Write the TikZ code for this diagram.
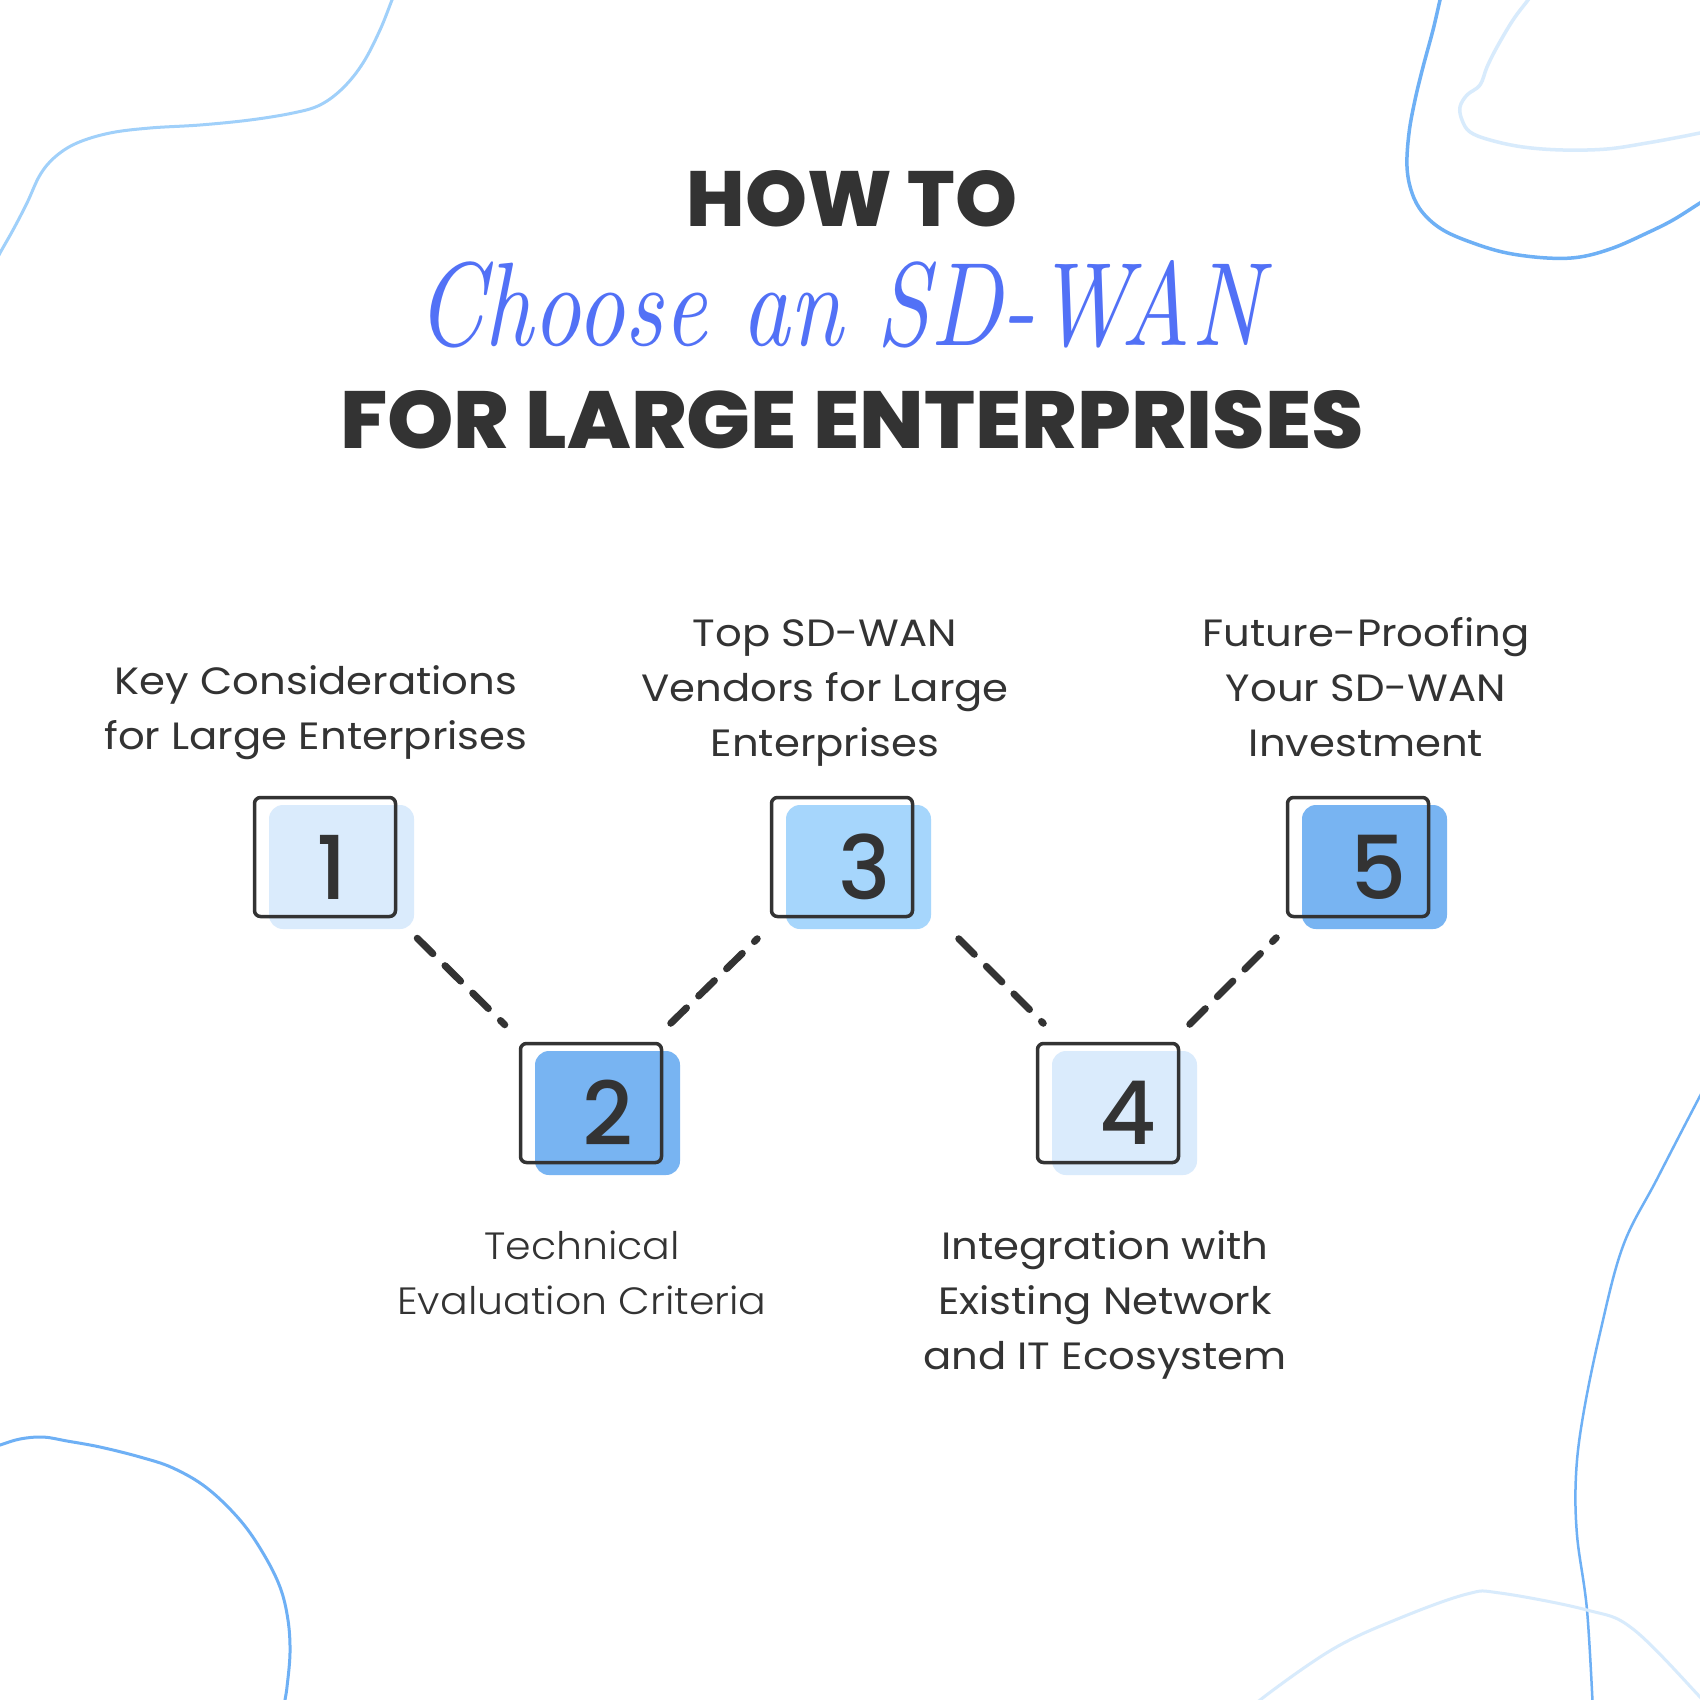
\documentclass[tikz,border=0pt]{standalone}
\usepackage{graphicx}
\usepackage{fontspec}
\newfontfamily\pop{Poppins}[FakeStretch=1.1]
\newfontfamily\poplight{Poppins Light}[FakeStretch=1.08]
\newfontfamily\popmed{Poppins Medium}
\newfontfamily\popxb{Poppins ExtraBold}
\usetikzlibrary{calc}
\definecolor{ink}{HTML}{333333}
\definecolor{scriptblue}{HTML}{5271F6}
\definecolor{boxlight}{HTML}{DAEBFC}
\definecolor{boxmid}{HTML}{A6D6FC}
\definecolor{boxdark}{HTML}{78B4F2}
\definecolor{curvedark}{HTML}{6EB0F5}
\definecolor{curvemid}{HTML}{A0D0FA}
\definecolor{curvelight}{HTML}{D8EBFC}
\begin{document}
\begin{tikzpicture}[x=1bp,y=-1bp,
  outline/.style={draw=ink, line width=3.5bp, rounded corners=6bp, minimum width=141bp, minimum height=119bp, inner sep=0pt},
  fillbox/.style={rounded corners=14bp, minimum width=145bp, minimum height=124bp, inner sep=0pt, text=ink, font=\popmed\fontsize{88bp}{88bp}\selectfont},
  link/.style={draw=ink, line width=7bp, line cap=round, dash pattern=on 22bp off 17bp},
  lab/.style={anchor=base, inner sep=0pt, text=ink, font=\pop\fontsize{38bp}{55bp}\selectfont},
  lablight/.style={lab, font=\poplight\fontsize{38bp}{55bp}\selectfont},
  head/.style={anchor=base, inner sep=0pt, text=ink},
  deco/.style={line width=3bp, line cap=round}
]
\useasboundingbox (0,0) rectangle (1700,1700);
\fill[white] (0,0) rectangle (1700,1700);

% decorative curves
\begin{scope}
\clip (0,0) rectangle (1700,1700);
\draw[deco, draw=curvemid] plot[smooth, tension=0.6] coordinates {(-6,265) (0,253) (13,230) (27,203) (40,175) (55,157) (77,143) (110,133) (150,128) (200,125) (250,120) (293,113) (320,105) (343,88) (363,63) (380,30) (392,0) (397,-12)};
\draw[deco, draw=curvedark, line width=3.5bp] plot[smooth, tension=0.6] coordinates {(1443,-12) (1440,0) (1433,30) (1423,67) (1415,100) (1409,133) (1407,167) (1412,193) (1423,213) (1443,230) (1473,243) (1507,253) (1547,258) (1580,257) (1613,248) (1647,233) (1673,220) (1700,203) (1712,196)};
\draw[deco, draw=curvelight, line width=3.5bp] plot[smooth, tension=0.6] coordinates {(1535,-10) (1528,0) (1513,20) (1497,47) (1487,67) (1480,85) (1467,95) (1460,107) (1462,120) (1470,132) (1490,140) (1523,147) (1563,150) (1607,149) (1647,143) (1680,137) (1700,133) (1712,131)};
\draw[deco, draw=curvedark] plot[smooth, tension=0.6] coordinates {(-12,1449) (0,1445) (20,1439) (43,1437) (67,1441) (100,1447) (140,1457) (173,1468) (207,1488) (240,1520) (263,1553) (280,1587) (288,1620) (290,1653) (287,1687) (285,1700) (284,1712)};
\draw[deco, draw=curvedark, line width=2.5bp] plot[smooth, tension=0.6] coordinates {(1712,1075) (1700,1096) (1657,1179) (1623,1246) (1600,1333) (1583,1416) (1576,1475) (1577,1535) (1587,1610) (1593,1712)};
\draw[deco, draw=curvelight, line width=3bp] plot[smooth, tension=0.6] coordinates {(1252,1712) (1260,1700) (1333,1649) (1400,1618) (1467,1594) (1500,1593) (1587,1610) (1633,1629) (1700,1697) (1710,1710)};
\end{scope}

% title
\node[head] (how) at (852,226) {\resizebox{330bp}{56bp}{\popxb HOW TO}};
\node[head, text=scriptblue] (choose) at (839,345) {\resizebox{845bp}{85bp}{\itshape Choose an SD-WAN}};
\node[head] (forlarge) at (852,448) {\resizebox{1023bp}{58bp}{\popxb FOR LARGE ENTERPRISES}};

% step boxes: coloured squares then outlines
\node[fillbox, fill=boxlight] (f1) at (341.5,867) {\kern-20bp 1};
\node[fillbox, fill=boxdark]  (f2) at (607.5,1113) {2};
\node[fillbox, fill=boxmid]   (f3) at (858.5,867) {\kern12bp 3};
\node[fillbox, fill=boxlight] (f4) at (1124.5,1113) {\kern6bp 4};
\node[fillbox, fill=boxdark]  (f5) at (1374.5,867) {\kern8bp 5};

\node[outline] (b1) at (325,857) {};
\node[outline] (b2) at (591,1103) {};
\node[outline] (b3) at (842,857) {};
\node[outline] (b4) at (1108,1103) {};
\node[outline] (b5) at (1358,857) {};

% dashed connectors
\draw[link] ($(b1.south east)+(20,20)$) -- ($(b2.north west)+(-14,-17)$);
\draw[link] ($(b2.north east)+(7.5,-18.5)$) -- ($(b3.south west)+(-12.5,20.5)$);
\draw[link] ($(b3.south east)+(44.5,20.5)$) -- ($(b4.north west)+(7.5,-18.5)$);
\draw[link] ($(b4.north east)+(9.5,-17.5)$) -- ($(b5.south west)+(-9.5,19.5)$);

% labels
\node[lab] (l1) at (316,694) {\begin{tabular}[t]{@{}c@{}}Key Considerations\\for Large Enterprises\end{tabular}};
\node[lab] (l3) at (825,646) {\begin{tabular}[t]{@{}c@{}}Top SD-WAN\\Vendors for Large\\Enterprises\end{tabular}};
\node[lab] (l5) at (1366,646) {\begin{tabular}[t]{@{}c@{}}Future-Proofing\\Your SD-WAN\\Investment\end{tabular}};
\node[lablight] (l2) at (582,1259) {\begin{tabular}[t]{@{}c@{}}Technical\\Evaluation Criteria\end{tabular}};
\node[lab] (l4) at (1105,1259) {\begin{tabular}[t]{@{}c@{}}Integration with\\Existing Network\\and IT Ecosystem\end{tabular}};
\end{tikzpicture}
\end{document}
